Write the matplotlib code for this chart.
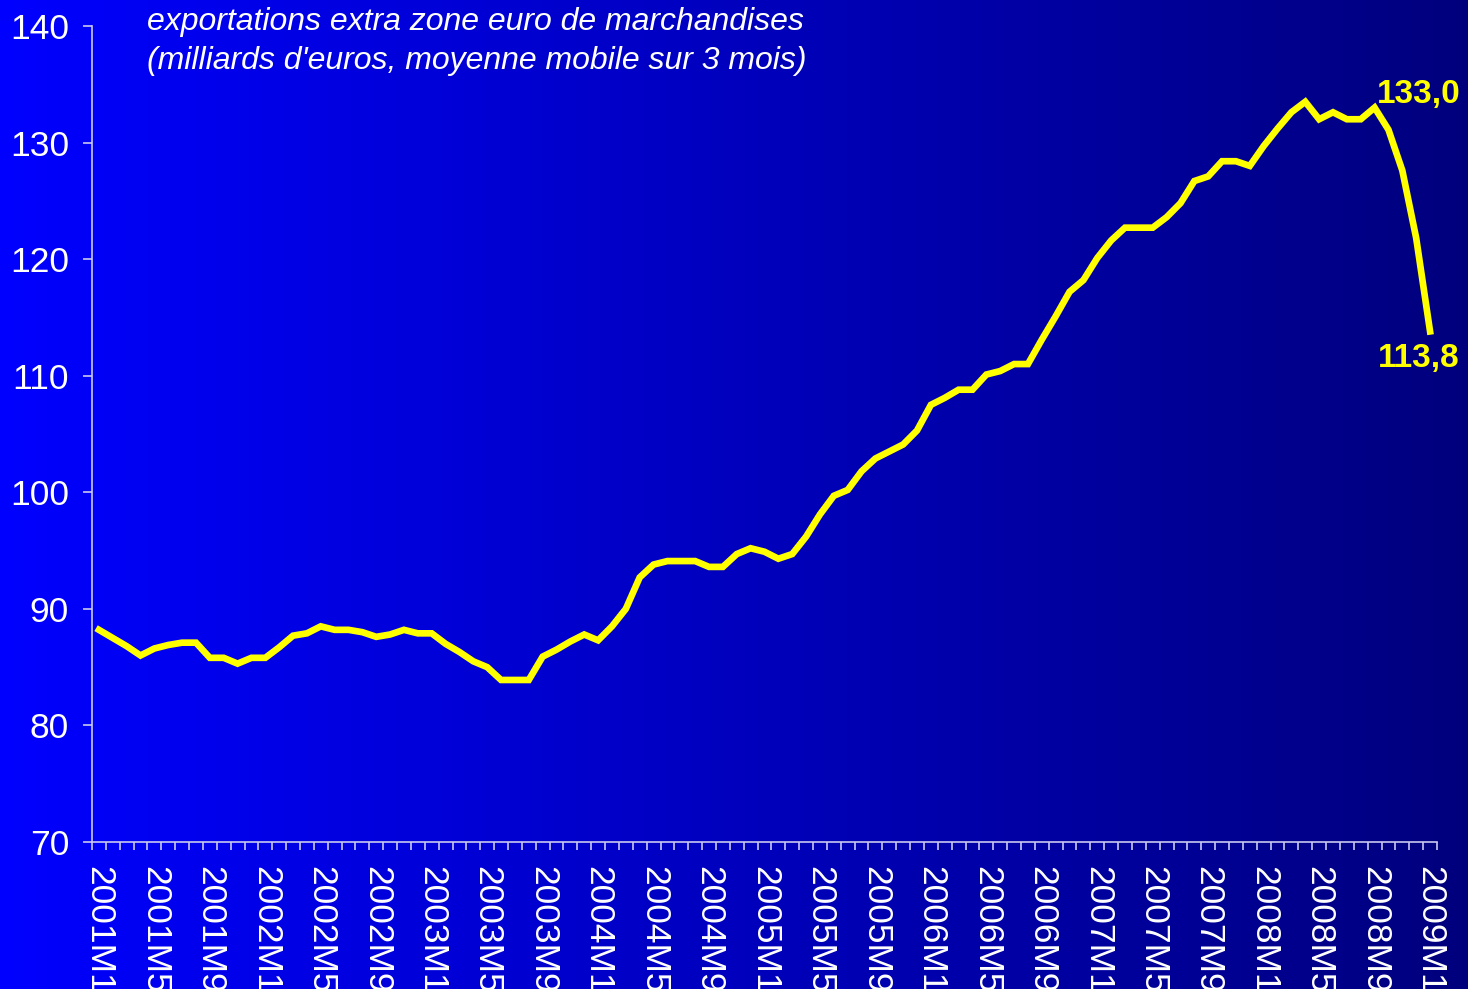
import numpy as np
import matplotlib
matplotlib.use("Agg")
import matplotlib.pyplot as plt

# ---- data ----
years = list(range(2001, 2009))
months = [f"{y}M{m}" for y in years for m in range(1, 13)] + ["2009M1"]

values = [
    88.2, 87.5, 86.8, 86.0, 86.6, 86.9, 87.1, 87.1, 85.8, 85.8, 85.3, 85.8,
    85.8, 86.7, 87.7, 87.9, 88.5, 88.2, 88.2, 88.0, 87.6, 87.8, 88.2, 87.9,
    87.9, 87.0, 86.3, 85.5, 85.0, 83.9, 83.9, 83.9, 85.9, 86.5, 87.2, 87.8,
    87.3, 88.5, 90.0, 92.7, 93.8, 94.1, 94.1, 94.1, 93.6, 93.6, 94.7, 95.2,
    94.9, 94.3, 94.7, 96.2, 98.1, 99.7, 100.2, 101.8, 102.9, 103.5, 104.1, 105.3,
    107.5, 108.1, 108.8, 108.8, 110.1, 110.4, 111.0, 111.0, 113.1, 115.1, 117.2, 118.2,
    120.1, 121.6, 122.7, 122.7, 122.7, 123.6, 124.8, 126.7, 127.1, 128.4, 128.4, 128.0,
    129.7, 131.2, 132.6, 133.5, 132.0, 132.6, 132.0, 132.0, 133.0, 131.1, 127.6, 121.8,
    113.8,
]
tick_labels = months[::4]
y_ticks = [70, 80, 90, 100, 110, 120, 130, 140]
title_lines = ["exportations extra zone euro de marchandises",
               "(milliards d'euros, moyenne mobile sur 3 mois)"]
annot_peak = "133,0"
annot_last = "113,8"

W, H = 1468, 989
fig = plt.figure(figsize=(W / 100, H / 100), dpi=100)

# background gradient
bg = fig.add_axes([0, 0, 1, 1], zorder=0)
grad = np.linspace(0, 1, 512)
blue = 255 - grad * 130
img = np.zeros((2, 512, 3))
img[:, :, 2] = blue / 255.0
bg.imshow(img, aspect="auto", extent=[0, 1, 0, 1], interpolation="bilinear")
bg.set_axis_off()

left, right = 92 / W, 1437 / W
bottom, top = (H - 842) / H, (H - 26) / H
ax = fig.add_axes([left, bottom, right - left, top - bottom], zorder=1)
ax.set_facecolor("none")

n = len(values)
x = np.arange(n)
ax.plot(x, values, color="#FFFF00", lw=4.8, solid_joinstyle="miter", zorder=3)

ax.set_xlim(-0.5, n - 0.5)
ax.set_ylim(70, 140)

axis_col = "#C8C8F0"
for s in ["top", "right"]:
    ax.spines[s].set_visible(False)
for s in ["left", "bottom"]:
    ax.spines[s].set_color(axis_col)
    ax.spines[s].set_linewidth(1.2)

ax.set_yticks(y_ticks)
ax.set_yticklabels([str(v) for v in y_ticks], fontsize=25.5, color="white",
                   family="Liberation Sans")
ax.tick_params(axis="y", direction="out", length=6.5, width=1.2, color=axis_col, pad=10)

# category ticks between categories
ax.set_xticks(np.arange(n + 1) - 0.5, minor=False)
ax.set_xticklabels([])
ax.tick_params(axis="x", which="major", direction="out", length=6, width=1.2, color=axis_col)
for i in range(0, n, 4):
    ax.text(i, -0.03, months[i], transform=ax.get_xaxis_transform(),
            rotation=270, ha="center", va="top", fontsize=25.5, color="white",
            family="Liberation Sans", clip_on=False)

# title
fig.text(147 / W, 1 - 22 / H, title_lines[0], fontsize=23, style="italic",
         color="white", family="Liberation Sans", va="center", ha="left")
fig.text(147 / W, 1 - 61 / H, title_lines[1], fontsize=23, style="italic",
         color="white", family="Liberation Sans", va="center", ha="left")

# annotations
fig.text(1419 / W, 1 - 95 / H, annot_peak, fontsize=24, weight="bold",
         color="#FFFF00", family="Liberation Sans", ha="center", va="center")
fig.text(1419 / W, 1 - 359 / H, annot_last, fontsize=24, weight="bold",
         color="#FFFF00", family="Liberation Sans", ha="center", va="center")

fig.savefig("out.png", dpi=100)
